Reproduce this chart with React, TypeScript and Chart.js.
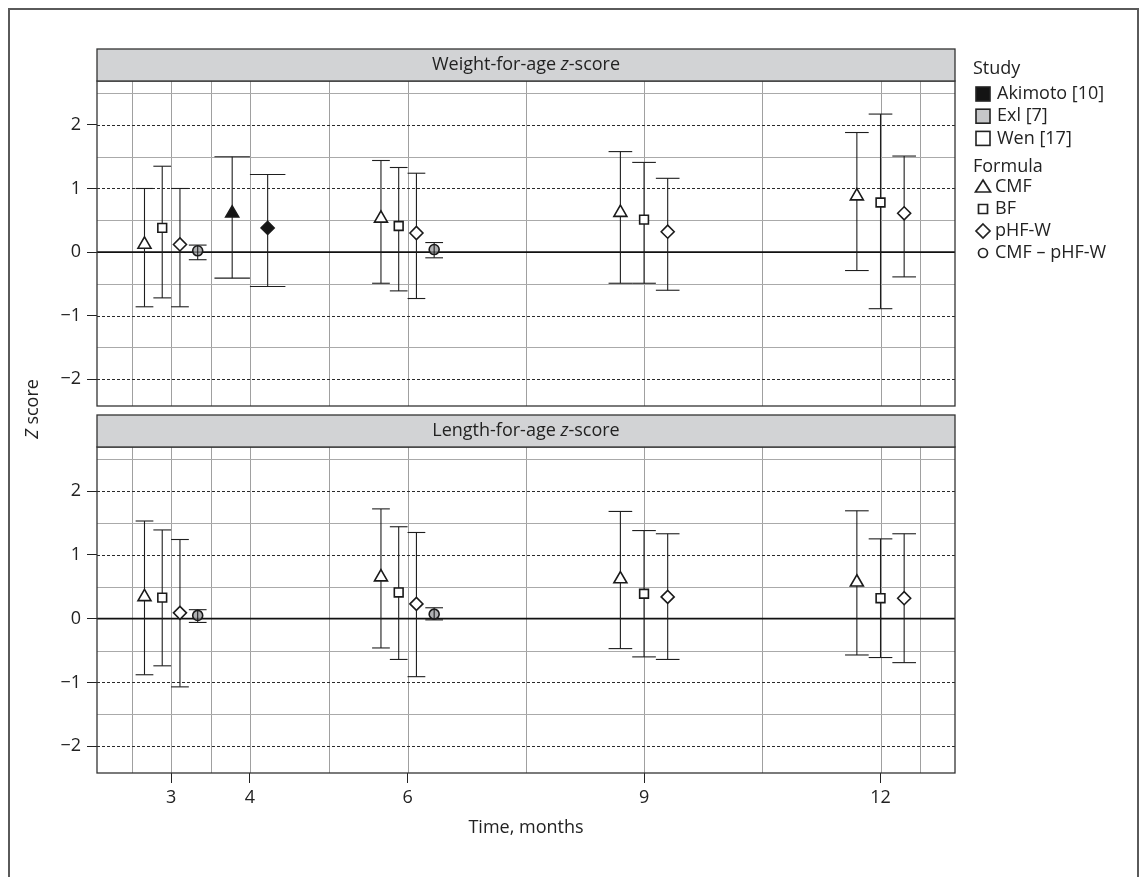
import React, { useEffect, useRef } from 'react';
import { Chart, registerables } from 'chart.js';

Chart.register(...registerables);

const FONT = "'Open Sans', 'Noto Sans', sans-serif";

// x axis (months)
const tickMonths = [3, 4, 6, 9, 12];
const minorMonths = [2.5, 3.5, 5, 7.5, 10.5, 12.5];
// y axis (z score)
const zTicks = [-2, -1, 0, 1, 2];
const zMinor = [-1.5, -0.5, 0.5, 1.5, 2.5];

const studies = ['Akimoto [10]', 'Exl [7]', 'Wen [17]'];
const formulas = ['CMF', 'BF', 'pHF-W', 'CMF \u2013 pHF-W'];

type Row = [number, string, string, number, number, number]; // month, formula, study, mean, lower, upper

const weightRows: Row[] = [
  [3, 'CMF', 'Wen [17]', 0.12, -0.86, 1.0],
  [3, 'BF', 'Wen [17]', 0.38, -0.72, 1.35],
  [3, 'pHF-W', 'Wen [17]', 0.12, -0.86, 1.0],
  [3, 'CMF \u2013 pHF-W', 'Exl [7]', 0.02, -0.12, 0.11],
  [4, 'CMF', 'Akimoto [10]', 0.61, -0.41, 1.5],
  [4, 'pHF-W', 'Akimoto [10]', 0.38, -0.54, 1.22],
  [6, 'CMF', 'Wen [17]', 0.53, -0.49, 1.44],
  [6, 'BF', 'Wen [17]', 0.41, -0.61, 1.33],
  [6, 'pHF-W', 'Wen [17]', 0.3, -0.73, 1.24],
  [6, 'CMF \u2013 pHF-W', 'Exl [7]', 0.04, -0.09, 0.15],
  [9, 'CMF', 'Wen [17]', 0.62, -0.49, 1.58],
  [9, 'BF', 'Wen [17]', 0.51, -0.49, 1.41],
  [9, 'pHF-W', 'Wen [17]', 0.32, -0.6, 1.16],
  [12, 'CMF', 'Wen [17]', 0.88, -0.29, 1.88],
  [12, 'BF', 'Wen [17]', 0.78, -0.89, 2.17],
  [12, 'pHF-W', 'Wen [17]', 0.61, -0.39, 1.51],
];

const lengthRows: Row[] = [
  [3, 'CMF', 'Wen [17]', 0.34, -0.88, 1.53],
  [3, 'BF', 'Wen [17]', 0.33, -0.74, 1.39],
  [3, 'pHF-W', 'Wen [17]', 0.09, -1.07, 1.24],
  [3, 'CMF \u2013 pHF-W', 'Exl [7]', 0.05, -0.06, 0.14],
  [6, 'CMF', 'Wen [17]', 0.65, -0.46, 1.72],
  [6, 'BF', 'Wen [17]', 0.41, -0.64, 1.44],
  [6, 'pHF-W', 'Wen [17]', 0.23, -0.91, 1.35],
  [6, 'CMF \u2013 pHF-W', 'Exl [7]', 0.07, -0.02, 0.17],
  [9, 'CMF', 'Wen [17]', 0.62, -0.47, 1.68],
  [9, 'BF', 'Wen [17]', 0.39, -0.6, 1.38],
  [9, 'pHF-W', 'Wen [17]', 0.34, -0.64, 1.33],
  [12, 'CMF', 'Wen [17]', 0.57, -0.57, 1.69],
  [12, 'BF', 'Wen [17]', 0.32, -0.61, 1.25],
  [12, 'pHF-W', 'Wen [17]', 0.32, -0.69, 1.33],
];

const styleFor: Record<string, string> = {
  CMF: 'triangle',
  BF: 'rect',
  'pHF-W': 'rectRot',
  'CMF \u2013 pHF-W': 'circle',
};
const radiusFor: Record<string, number> = {
  CMF: 7.5,
  BF: 6.2,
  'pHF-W': 6.5,
  'CMF \u2013 pHF-W': 5,
};
const studyFill: Record<string, string> = {
  'Akimoto [10]': '#141414',
  'Exl [7]': '#c6c7c9',
  'Wen [17]': '#ffffff',
};

type Pt = { x: number; y: number; lo: number; hi: number; half: number; formula: string; study: string };

function dodge(rows: Row[]): Pt[] {
  return rows.map((r) => {
    const group = rows.filter((q) => q[0] === r[0]);
    const n = group.length;
    const i = group.indexOf(r);
    const w = 0.9 / n;
    return {
      x: r[0] + (i - (n - 1) / 2) * w,
      y: r[3],
      lo: r[4],
      hi: r[5],
      half: w / 2,
      formula: r[1],
      study: r[2],
    };
  });
}

function pointFill(p: Pt): string {
  if (p.formula === formulas[3]) return 'rgba(150,151,153,0.75)';
  return studyFill[p.study];
}

function hline(ctx: CanvasRenderingContext2D, x1: number, x2: number, y: number) {
  ctx.beginPath();
  ctx.moveTo(x1, y);
  ctx.lineTo(x2, y);
  ctx.stroke();
}
function vline(ctx: CanvasRenderingContext2D, x: number, y1: number, y2: number) {
  ctx.beginPath();
  ctx.moveTo(x, y1);
  ctx.lineTo(x, y2);
  ctx.stroke();
}

function drawErr(ctx: CanvasRenderingContext2D, xs: any, ys: any, p: Pt) {
  const cx = xs.getPixelForValue(p.x);
  const l = xs.getPixelForValue(p.x - p.half);
  const r = xs.getPixelForValue(p.x + p.half);
  const t = ys.getPixelForValue(p.hi);
  const b = ys.getPixelForValue(p.lo);
  ctx.strokeStyle = '#1e1e1e';
  ctx.lineWidth = 1.1;
  vline(ctx, cx, t, b);
  hline(ctx, l, r, t);
  hline(ctx, l, r, b);
}

function drawParts(
  ctx: CanvasRenderingContext2D,
  parts: [string, boolean][],
  cx: number,
  cy: number,
  size: number
) {
  const fonts = parts.map(([, it]) => `${it ? 'italic ' : ''}${size}px ${FONT}`);
  let total = 0;
  const widths = parts.map(([s], i) => {
    ctx.font = fonts[i];
    const w = ctx.measureText(s).width;
    total += w;
    return w;
  });
  let x = cx - total / 2;
  ctx.textAlign = 'left';
  ctx.textBaseline = 'middle';
  parts.forEach(([s], i) => {
    ctx.font = fonts[i];
    ctx.fillText(s, x, cy);
    x += widths[i];
  });
}

function drawLegend(ctx: CanvasRenderingContext2D) {
  ctx.save();
  ctx.fillStyle = '#222';
  ctx.font = `18px ${FONT}`;
  ctx.textAlign = 'left';
  ctx.textBaseline = 'middle';
  ctx.fillText('Study', 973, 69);
  studies.forEach((s, i) => {
    const y = 94 + i * 22.2;
    ctx.fillStyle = studyFill[s];
    ctx.fillRect(976, y - 7, 14, 14);
    ctx.strokeStyle = '#222';
    ctx.lineWidth = 1.6;
    ctx.strokeRect(976, y - 7, 14, 14);
    ctx.fillStyle = '#222';
    ctx.fillText(s, 997, y);
  });
  ctx.fillText('Formula', 973, 166.5);
  formulas.forEach((f, i) => {
    const y = 187 + i * 22;
    const cx = 983;
    ctx.strokeStyle = '#222';
    ctx.lineWidth = 1.7;
    ctx.beginPath();
    if (f === 'CMF') {
      ctx.moveTo(cx, y - 7);
      ctx.lineTo(cx + 7.5, y + 5);
      ctx.lineTo(cx - 7.5, y + 5);
      ctx.closePath();
    } else if (f === 'BF') {
      ctx.rect(cx - 4.5, y - 4.5, 9, 9);
    } else if (f === 'pHF-W') {
      ctx.moveTo(cx, y - 7);
      ctx.lineTo(cx + 7, y);
      ctx.lineTo(cx, y + 7);
      ctx.lineTo(cx - 7, y);
      ctx.closePath();
    } else {
      ctx.arc(cx, y, 4.5, 0, Math.PI * 2);
    }
    ctx.stroke();
    ctx.fillStyle = '#222';
    ctx.fillText(f, 995, y);
  });
  ctx.restore();
}

function panelPlugin(pts: Pt[], label: string, isBottom: boolean) {
  return {
    id: 'panel' + (isBottom ? 'B' : 'T'),
    beforeDatasetsDraw(chart: any) {
      const { ctx, chartArea: a, scales } = chart;
      const xs = scales.x;
      const ys = scales.y;
      ctx.save();
      ctx.lineWidth = 1;
      ctx.strokeStyle = '#a0a0a0';
      [...minorMonths, ...tickMonths].forEach((m) => {
        const px = Math.round(xs.getPixelForValue(m)) + 0.5;
        vline(ctx, px, a.top, a.bottom);
      });
      ctx.strokeStyle = '#aaaaaa';
      zMinor.forEach((v) => {
        const py = Math.round(ys.getPixelForValue(v)) + 0.5;
        hline(ctx, a.left, a.right, py);
      });
      ctx.strokeStyle = '#2a2a2a';
      ctx.setLineDash([3, 2]);
      zTicks
        .filter((v) => v !== 0)
        .forEach((v) => {
          const py = Math.round(ys.getPixelForValue(v)) + 0.5;
          hline(ctx, a.left, a.right, py);
        });
      ctx.setLineDash([]);
      ctx.strokeStyle = '#111';
      ctx.lineWidth = 1.7;
      hline(ctx, a.left, a.right, ys.getPixelForValue(0));
      pts.filter((p) => p.formula !== formulas[3]).forEach((p) => drawErr(ctx, xs, ys, p));
      ctx.restore();
    },
    afterDatasetsDraw(chart: any) {
      const { ctx, chartArea: a, scales } = chart;
      ctx.save();
      pts.filter((p) => p.formula === formulas[3]).forEach((p) => drawErr(ctx, scales.x, scales.y, p));
      // panel border
      ctx.strokeStyle = '#333';
      ctx.lineWidth = 1.3;
      ctx.strokeRect(a.left, a.top, a.right - a.left, a.bottom - a.top);
      // strip
      const sh = 32;
      ctx.fillStyle = '#d2d3d5';
      ctx.fillRect(a.left, a.top - sh, a.right - a.left, sh);
      ctx.strokeRect(a.left, a.top - sh, a.right - a.left, sh);
      ctx.fillStyle = '#222';
      drawParts(ctx, [[label, false], ['z', true], ['-score', false]], (a.left + a.right) / 2, a.top - sh / 2, 18);
      ctx.restore();
    },
    afterDraw(chart: any) {
      const { ctx, chartArea: a } = chart;
      ctx.save();
      ctx.fillStyle = '#222';
      if (isBottom) {
        drawParts(ctx, [['Time, months', false]], (a.left + a.right) / 2, 828, 18);
      } else {
        drawLegend(ctx);
        ctx.translate(33, 409);
        ctx.rotate(-Math.PI / 2);
        ctx.fillStyle = '#222';
        drawParts(ctx, [['Z', true], [' score', false]], 0, 0, 18);
      }
      ctx.restore();
    },
  };
}

function buildConfig(rows: Row[], label: string, isBottom: boolean): any {
  const pts = dodge(rows);
  return {
    type: 'scatter',
    data: {
      datasets: [
        {
          data: pts,
          showLine: false,
          pointStyle: (c: any) => (c.raw ? styleFor[c.raw.formula] : 'circle'),
          pointRadius: (c: any) => (c.raw ? radiusFor[c.raw.formula] : 5),
          pointBackgroundColor: (c: any) => (c.raw ? pointFill(c.raw) : '#fff'),
          pointBorderColor: '#1a1a1a',
          pointBorderWidth: 1.6,
        },
      ],
    },
    options: {
      responsive: false,
      animation: false,
      events: [],
      layout: {
        padding: isBottom
          ? { left: 47, right: 189, top: 447, bottom: 64 }
          : { left: 47, right: 189, top: 81, bottom: 471 },
      },
      plugins: { legend: { display: false }, tooltip: { enabled: false } },
      scales: {
        x: {
          type: 'linear',
          min: 2.06,
          max: 12.945,
          display: isBottom,
          afterBuildTicks: (s: any) => {
            s.ticks = tickMonths.map((v) => ({ value: v }));
          },
          afterFit: (s: any) => {
            s.height = isBottom ? 40 : 0;
          },
          grid: { drawOnChartArea: false, tickLength: 10, tickColor: '#222', tickWidth: 1 },
          border: { display: false },
          ticks: {
            font: { family: FONT, size: 18 },
            color: '#222',
            padding: 4,
            maxRotation: 0,
            autoSkip: false,
            callback: (v: any) => String(v),
          },
        },
        y: {
          type: 'linear',
          min: -2.42,
          max: 2.69,
          afterBuildTicks: (s: any) => {
            s.ticks = zTicks.map((v) => ({ value: v }));
          },
          afterFit: (s: any) => {
            s.width = 50;
          },
          grid: { drawOnChartArea: false, tickLength: 10, tickColor: '#222', tickWidth: 1 },
          border: { display: false },
          ticks: {
            font: { family: FONT, size: 18 },
            color: '#222',
            padding: 6,
            callback: (v: any) => (v < 0 ? '\u2212' + Math.abs(v) : String(v)),
          },
        },
      },
    },
    plugins: [panelPlugin(pts, label, isBottom)],
  };
}

export default function App() {
  const topRef = useRef<HTMLCanvasElement>(null);
  const botRef = useRef<HTMLCanvasElement>(null);

  useEffect(() => {
    const top = new Chart(topRef.current as HTMLCanvasElement, buildConfig(weightRows, 'Weight-for-age ', false));
    const bot = new Chart(botRef.current as HTMLCanvasElement, buildConfig(lengthRows, 'Length-for-age ', true));
    return () => {
      top.destroy();
      bot.destroy();
    };
  }, []);

  const canvasStyle: React.CSSProperties = { position: 'absolute', left: 0, top: 0, width: 1144, height: 877 };

  return (
    <div
      style={{
        position: 'fixed',
        left: 0,
        top: 0,
        width: 1144,
        height: 877,
        overflow: 'hidden',
        background: '#fff',
      }}
    >
      <div
        style={{
          position: 'absolute',
          left: 8,
          top: 8,
          width: 1131,
          height: 900,
          border: '2px solid #5a5a5a',
          boxSizing: 'border-box',
        }}
      />
      <canvas ref={topRef} width={1144} height={877} style={canvasStyle} />
      <canvas ref={botRef} width={1144} height={877} style={canvasStyle} />
    </div>
  );
}
